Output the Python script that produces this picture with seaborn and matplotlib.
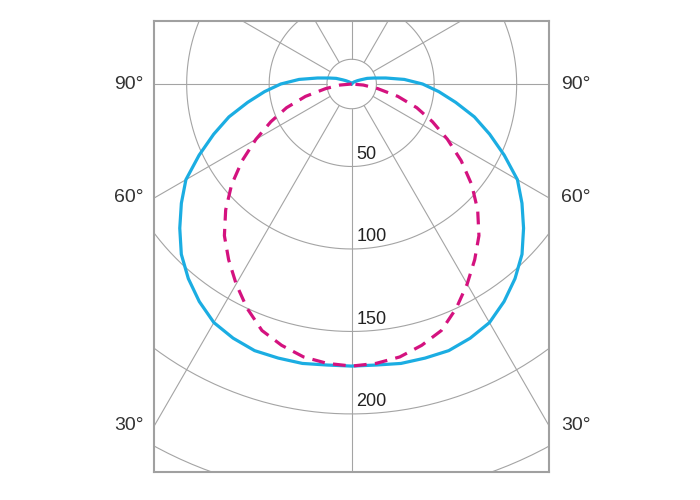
import numpy as np
import pandas as pd
import seaborn as sns
import matplotlib.pyplot as plt

# luminous intensity (cd), per gamma angle from nadir
gamma_c0 = [0, 5, 10, 15, 20, 25, 30, 35, 40, 45, 50, 55, 60, 65, 70, 75, 80, 85,
            90, 95, 100, 105, 110, 115, 120, 130, 140, 160, 180]
cd_c0 = [171, 171, 172, 172, 172, 170, 167, 161, 154, 146, 136, 126, 116, 102, 89,
         77, 64, 53, 43, 32, 21, 14, 10, 6, 4, 2, 1, 0, 0]
gamma_c90 = [0, 5, 10, 15, 20, 25, 30, 35, 40, 45, 50, 55, 60, 65, 70, 75, 80, 85, 90]
cd_c90 = [171, 170, 168, 164, 159, 150, 140, 130, 120, 108, 95, 81, 67, 54, 42, 29,
          16, 7, 0]

ring_values = [50, 100, 150, 200, 250, 300]
ring_labels = [50, 100, 150, 200]
inner_ring = 15
spoke_angles = list(range(0, 360, 30))
side_labels = [90, 60, 30]

grid_col = '#a4a4a4'
blue = '#1badE2'
magenta = '#d4127f'


def to_xy(gamma, cd):
    g = np.array(gamma, dtype=float)
    v = np.array(cd, dtype=float)
    g = np.concatenate([-g[::-1], g[1:]])
    v = np.concatenate([v[::-1], v[1:]])
    rad = np.radians(g)
    return pd.DataFrame({'x': v * np.sin(rad), 'y': -v * np.cos(rad)})


sns.set_style('white')
plt.rcParams['font.family'] = ['Liberation Sans', 'DejaVu Sans']

fig = plt.figure(figsize=(7, 5), dpi=100)
ax = fig.add_axes([0.2207, 0.056, 0.5636, 0.902])
xmax = 119.6
ax.set_xlim(-119.5, xmax)
ax.set_ylim(-235.2, 38.2)

# grid rings and spokes
t = np.linspace(0, 2 * np.pi, 400)
for r in ring_values + [inner_ring]:
    ax.plot(r * np.cos(t), r * np.sin(t), color=grid_col, lw=0.8, zorder=1)
for a in spoke_angles:
    ar = np.radians(a)
    ax.plot([inner_ring * np.sin(ar), 500 * np.sin(ar)],
            [-inner_ring * np.cos(ar), -500 * np.cos(ar)],
            color=grid_col, lw=0.8, zorder=1)

for r in ring_labels:
    ax.text(3, -r + 7.5, str(r), ha='left', va='center', fontsize=13,
            color='#222222', zorder=2)

# curves
sns.lineplot(data=to_xy(gamma_c0, cd_c0), x='x', y='y', sort=False,
             estimator=None, color=blue, lw=2.3, ax=ax, zorder=4)
ax.lines[-1].set_solid_joinstyle('round')
sns.lineplot(data=to_xy(gamma_c90, cd_c90), x='x', y='y', sort=False,
             estimator=None, color=magenta, lw=2.3, ax=ax, zorder=5)
ax.lines[-1].set_dashes([4, 2.6])
ax.lines[-1].set_dash_joinstyle('round')

# angle labels on both sides, where the spokes meet the frame
trans = ax.get_yaxis_transform()
for a in side_labels:
    ar = np.radians(a)
    y = -xmax * np.cos(ar) / np.sin(ar)
    ax.text(-0.027, y, f'{a}°', transform=trans, ha='right', va='center',
            fontsize=14, color='#333333')
    ax.text(1.03, y, f'{a}°', transform=trans, ha='left', va='center',
            fontsize=14, color='#333333')

ax.set_xticks([])
ax.set_yticks([])
ax.set_xlabel('')
ax.set_ylabel('')
for s in ax.spines.values():
    s.set_color('#a0a0a0')
    s.set_linewidth(1.5)

fig.savefig('out.png', dpi=100)
